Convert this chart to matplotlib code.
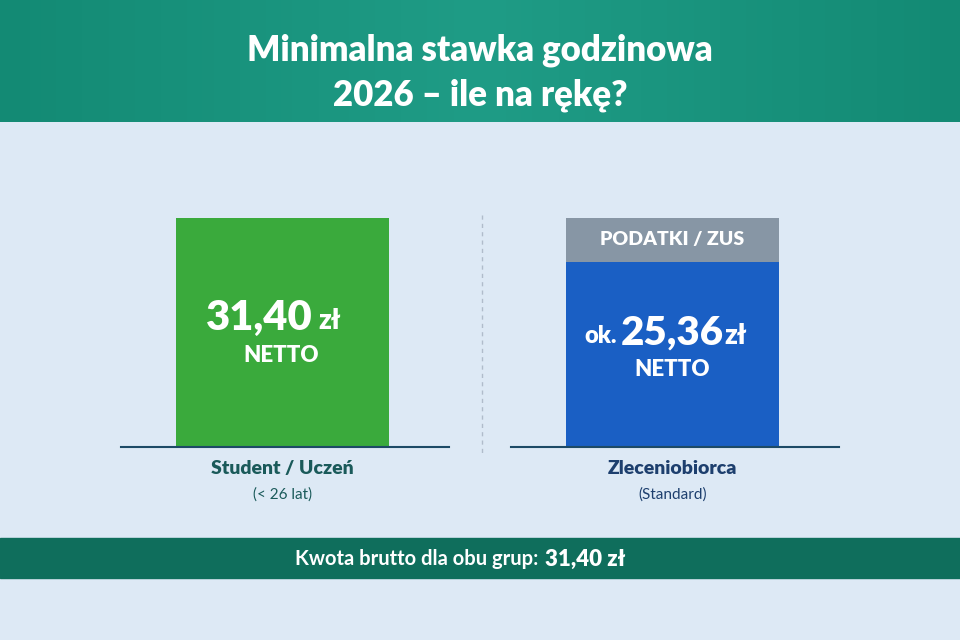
import numpy as np
import matplotlib.pyplot as plt
from matplotlib.patches import Rectangle
from matplotlib.colors import LinearSegmentedColormap

plt.rcParams['font.family'] = ['Lato', 'DejaVu Sans']

# data
groups = ['Student / Uczeń', 'Zleceniobiorca']
subtitles = ['(< 26 lat)', '(Standard)']
brutto = 31.40
netto = [31.40, 25.36]
netto_labels = ['31,40', '25,36']

W, H = 960, 640
fig = plt.figure(figsize=(9.6, 6.4), dpi=100)
fig.patch.set_facecolor('#dde9f5')

# full-figure pixel axes for decorations
bg = fig.add_axes([0, 0, 1, 1])
bg.set_xlim(0, W)
bg.set_ylim(H, 0)
bg.axis('off')

# header gradient
grad = np.linspace(0, 1, 256).reshape(1, -1)
hdr = LinearSegmentedColormap.from_list('hdr', ['#138a74', '#1f9c86', '#138a74'])
bg.imshow(grad, extent=(0, W, 122, 0), cmap=hdr, aspect='auto', zorder=0)
bg.text(W / 2, 50, 'Minimalna stawka godzinowa', ha='center', va='center',
        color='white', fontsize=25, fontweight='heavy')
bg.text(W / 2, 95, '2026 – ile na rękę?', ha='center', va='center',
        color='white', fontsize=25, fontweight='heavy')

# divider
bg.plot([482, 482], [215, 455], color='#b0bccb', lw=1, ls=(0, (3, 3)))

# footer
bg.add_patch(Rectangle((0, 538), W, 40, color='#0f6e5c', zorder=1))
bg.text(538, 559, 'Kwota brutto dla obu grup:', ha='right', va='center',
        color='white', fontsize=14.5, fontweight='bold')
bg.text(545, 559, f'{brutto:.2f}'.replace('.', ',') + ' zł',
        ha='left', va='center', color='white', fontsize=16, fontweight='heavy')

# bars axes (left 121..838 px, bottom at 447 px, top at 200 px)
ax = fig.add_axes([121 / W, 1 - 447 / H, 717 / W, 247 / H])
ax.set_facecolor('none')
ax.axis('off')
ax.set_xlim(-0.414, 1.424)
ax.set_ylim(0, 247 / 7.3)
bw = 0.546

ax.bar(0, netto[0], width=bw, color='#3aaa3c', zorder=2)
ax.bar(1, netto[1], width=bw, color='#1a5fc4', zorder=2)
ax.bar(1, brutto - netto[1], bottom=netto[1], width=bw, color='#8796a5', zorder=2)

# baselines
ax.plot([-0.414, 0.427], [0, 0], color='#1d4a66', lw=1.5, clip_on=False)
ax.plot([0.586, 1.427], [0, 0], color='#1d4a66', lw=1.5, clip_on=False)

ax.text(1, (netto[1] + brutto) / 2, 'PODATKI / ZUS', ha='center', va='center',
        color='white', fontsize=14, fontweight='heavy')

# group labels
for i, (g, s) in enumerate(zip(groups, subtitles)):
    col = '#1a5a5a' if i == 0 else '#1d3f6e'
    ax.text(i, -3.0, g, ha='center', va='center', color=col,
            fontsize=14, fontweight='heavy', clip_on=False)
    ax.text(i, -6.5, s, ha='center', va='center', color=col,
            fontsize=11, clip_on=False)

# overlay axes for value labels (pixel coords)
top = fig.add_axes([0, 0, 1, 1])
top.set_xlim(0, W)
top.set_ylim(H, 0)
top.axis('off')
top.patch.set_alpha(0)

top.text(313, 318, netto_labels[0], ha='right', va='center',
         color='white', fontsize=30, fontweight='heavy')
top.text(318, 321, 'zł', ha='left', va='center',
         color='white', fontsize=20, fontweight='heavy')
top.text(281, 355, 'NETTO', ha='center', va='center',
         color='white', fontsize=16, fontweight='heavy')

top.text(617, 336, 'ok.', ha='right', va='center',
         color='white', fontsize=17, fontweight='heavy')
top.text(621, 333, netto_labels[1], ha='left', va='center',
         color='white', fontsize=29, fontweight='heavy')
top.text(724, 336, 'zł', ha='left', va='center',
         color='white', fontsize=20, fontweight='heavy')
top.text(672, 369, 'NETTO', ha='center', va='center',
         color='white', fontsize=16, fontweight='heavy')

fig.savefig('out.png', dpi=100, facecolor=fig.get_facecolor())
